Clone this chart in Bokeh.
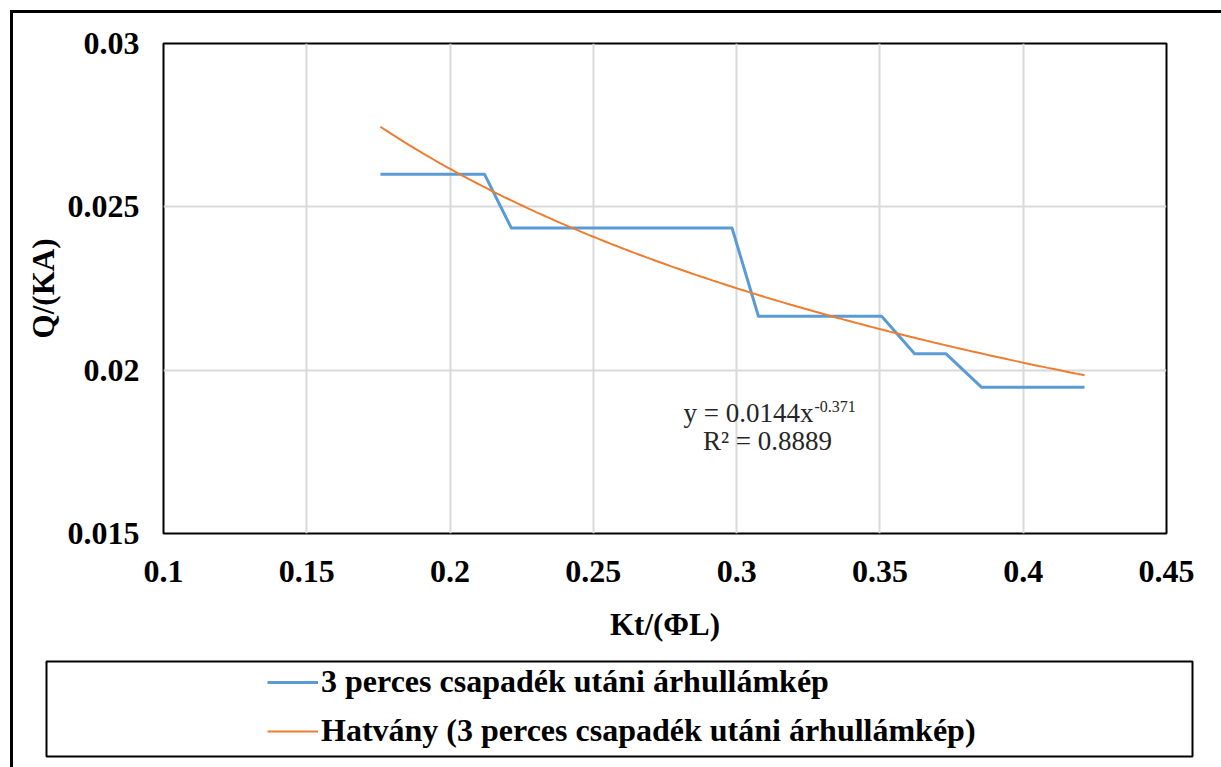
import numpy as np
from bokeh.plotting import figure
from bokeh.layouts import column
from bokeh.models import FixedTicker, Legend, LegendItem, Label, Range1d
from bokeh.embed import file_html
from bokeh.resources import INLINE

# Dimensionless hydrograph after a 3-minute rainfall: Q/(KA) against Kt/(ΦL)
kt_phil = [0.1757, 0.2120, 0.2214, 0.2984, 0.3076, 0.3506, 0.3621, 0.3731, 0.3854, 0.4214]
q_ka = [0.0260, 0.0260, 0.02435, 0.02435, 0.02165, 0.02165, 0.0205, 0.0205, 0.01948, 0.01948]

# Power trendline y = a * x^b and its goodness of fit
fit_a = 0.0144
fit_b = -0.371
fit_r2 = 0.8889

x_ticks = [0.1, 0.15, 0.2, 0.25, 0.3, 0.35, 0.4, 0.45]
x_tick_labels = ["0.1", "0.15", "0.2", "0.25", "0.3", "0.35", "0.4", "0.45"]
y_ticks = [0.015, 0.02, 0.025, 0.03]
y_tick_labels = ["0.015", "0.02", "0.025", "0.03"]

series_name = "3 perces csapadék utáni árhullámkép"
trend_name = "Hatvány (3 perces csapadék utáni árhullámkép)"

BLUE = "#5B9BD5"
ORANGE = "#ED7D31"
SERIF = "Liberation Serif"
TEXT_DARK = "#262626"

# trendline evaluated over the span of the measured points
trend_x = np.linspace(min(kt_phil), max(kt_phil), 200)
trend_y = fit_a * trend_x ** fit_b

series_style = dict(line_color=BLUE, line_width=3, line_join="round")
trend_style = dict(line_color=ORANGE, line_width=2)

# ---- main chart -------------------------------------------------------
p = figure(width=1208, height=637,
           x_range=Range1d(0.1, 0.45), y_range=Range1d(0.015, 0.03),
           output_backend="svg", toolbar_location=None,
           min_border_left=150, min_border_right=55,
           min_border_top=30, min_border_bottom=117)
p.frame_align = False
p.background_fill_color = "white"
p.border_fill_color = "white"
p.outline_line_color = "black"
p.outline_line_width = 2

# axes: labels only, no ticks or spines
p.xaxis.ticker = FixedTicker(ticks=x_ticks)
p.yaxis.ticker = FixedTicker(ticks=y_ticks)
p.xaxis.major_label_overrides = dict(zip(x_ticks, x_tick_labels))
p.yaxis.major_label_overrides = dict(zip(y_ticks, y_tick_labels))
for ax in (p.xaxis[0], p.yaxis[0]):
    ax.axis_line_color = None
    ax.major_tick_line_color = None
    ax.minor_tick_line_color = None
    ax.major_tick_out = 0
    ax.major_tick_in = 0
    ax.major_label_text_font = SERIF
    ax.major_label_text_font_style = "bold"
    ax.major_label_text_font_size = "32px"
    ax.major_label_text_color = "black"
    ax.axis_label_text_font = SERIF
    ax.axis_label_text_font_style = "bold"
    ax.axis_label_text_font_size = "31px"
    ax.axis_label_text_color = "black"

p.xaxis.axis_label = "Kt/(ΦL)"
p.yaxis.axis_label = "Q/(KA)"
p.xaxis.major_label_standoff = 27
p.xaxis.axis_label_standoff = 22
p.yaxis.major_label_standoff = 24
p.yaxis.axis_label_standoff = 4

p.xgrid.ticker = FixedTicker(ticks=x_ticks)
p.ygrid.ticker = FixedTicker(ticks=y_ticks)
p.grid.grid_line_color = "#d9d9d9"
p.grid.grid_line_width = 2

p.line(kt_phil, q_ka, **series_style)
p.line(trend_x, trend_y, **trend_style)

# trendline equation and R²
p.add_layout(Label(x=650, y=121, x_units="screen", y_units="screen",
                   text=f"y = {fit_a}x", text_align="right", text_baseline="alphabetic",
                   text_font=SERIF, text_font_size="27px", text_color=TEXT_DARK))
p.add_layout(Label(x=651, y=127, x_units="screen", y_units="screen",
                   text=f"{fit_b}", text_align="left", text_baseline="alphabetic",
                   text_font=SERIF, text_font_size="16px", text_color=TEXT_DARK))
p.add_layout(Label(x=604, y=93, x_units="screen", y_units="screen",
                   text=f"R² = {fit_r2}", text_align="center", text_baseline="alphabetic",
                   text_font=SERIF, text_font_size="27px", text_color=TEXT_DARK))

# ---- legend box ---------------------------------------------------------
# same series drawn against a range they never reach, so only the keys show
leg = figure(width=1208, height=117,
             x_range=Range1d(0.1, 0.45), y_range=Range1d(1, 2),
             x_axis_type=None, y_axis_type=None,
             output_backend="svg", toolbar_location=None,
             min_border_left=33, min_border_right=29,
             min_border_top=11, min_border_bottom=11)
leg.frame_align = False
leg.background_fill_color = "white"
leg.border_fill_color = "white"
leg.outline_line_color = "black"
leg.outline_line_width = 2
leg.grid.visible = False

key_series = leg.line(kt_phil, q_ka, **series_style)
key_trend = leg.line(trend_x, trend_y, **trend_style)

legend = Legend(items=[LegendItem(label=series_name, renderers=[key_series]),
                       LegendItem(label=trend_name, renderers=[key_trend])],
                location=(221, 7), orientation="vertical",
                glyph_width=51, glyph_height=36, label_height=36,
                label_standoff=3, spacing=12, padding=0, margin=0,
                border_line_color=None, background_fill_alpha=0,
                label_text_font=SERIF, label_text_font_style="bold",
                label_text_font_size="32px", label_text_color="black")
leg.add_layout(legend)

# outer chart frame (left and top edges inside the window)
layout = column(p, leg, spacing=0, margin=(10, 0, 0, 10),
                styles={"border-left": "3px solid black", "border-top": "3px solid black"})

open("out.html", "w").write(file_html(layout, INLINE))
